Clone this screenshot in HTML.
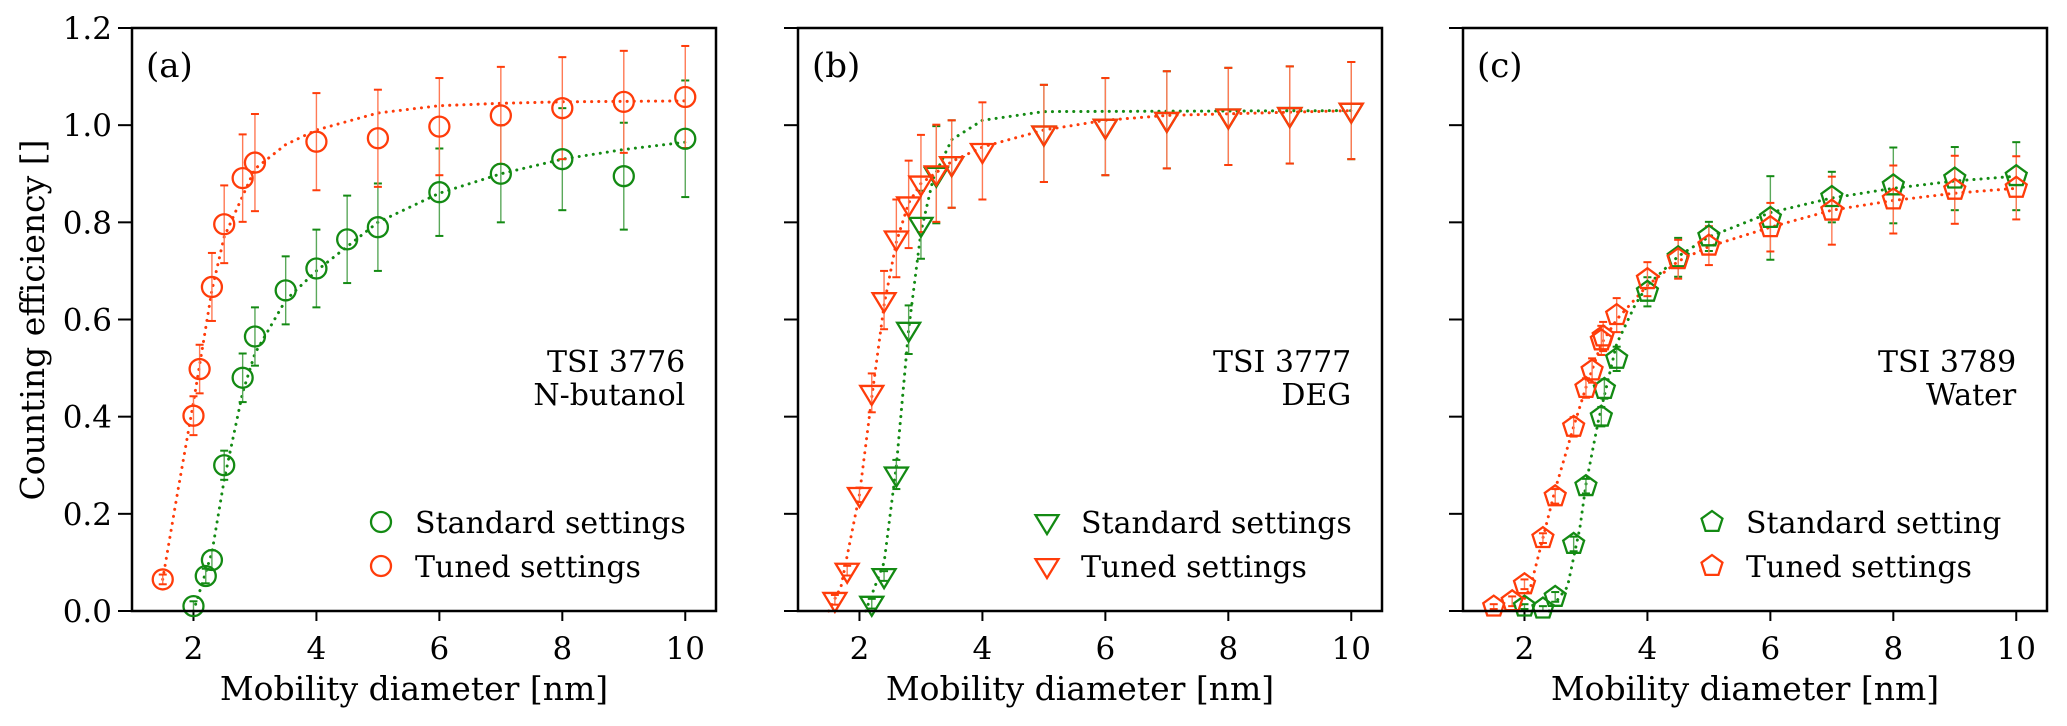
<!DOCTYPE html>
<html><head><meta charset="utf-8">
<style>
html,body{margin:0;padding:0;background:#fff;}
svg{display:block;font-family:"DejaVu Serif","Liberation Serif",serif;}
</style></head>
<body>
<svg id="chart" width="2067" height="726" viewBox="0 0 2067 726" xmlns="http://www.w3.org/2000/svg"></svg>
<script>
// ---- Panel (a) TSI 3776 N-butanol ----
const aStdX = [2, 2.2, 2.3, 2.5, 2.8, 3, 3.5, 4, 4.5, 5, 6, 7, 8, 9, 10];
const aStdY = [0.01, 0.072, 0.105, 0.30, 0.48, 0.565, 0.66, 0.705, 0.765, 0.79, 0.862, 0.90, 0.93, 0.895, 0.972];
const aStdE = [0.01, 0.015, 0.02, 0.03, 0.05, 0.06, 0.07, 0.08, 0.09, 0.09, 0.09, 0.10, 0.105, 0.11, 0.12];
const aTunX = [1.5, 2, 2.1, 2.3, 2.5, 2.8, 3, 4, 5, 6, 7, 8, 9, 10];
const aTunY = [0.065, 0.402, 0.498, 0.667, 0.796, 0.891, 0.923, 0.966, 0.973, 0.997, 1.02, 1.035, 1.048, 1.058];
const aTunE = [0.01, 0.04, 0.05, 0.07, 0.08, 0.09, 0.10, 0.10, 0.10, 0.10, 0.10, 0.105, 0.105, 0.105];
const aStdFitX = [2, 2.3, 2.5, 2.8, 3, 3.5, 4, 5, 6, 7, 8, 9, 10];
const aStdFitY = [0.0, 0.12, 0.27, 0.45, 0.53, 0.64, 0.70, 0.80, 0.86, 0.90, 0.93, 0.95, 0.965];
const aTunFitX = [1.5, 1.75, 2, 2.3, 2.5, 3, 3.5, 4, 5, 6, 7, 8, 10];
const aTunFitY = [0.065, 0.25, 0.43, 0.66, 0.77, 0.91, 0.96, 0.99, 1.025, 1.04, 1.045, 1.048, 1.05];
// ---- Panel (b) TSI 3777 DEG ----
const bStdX = [2.2, 2.4, 2.6, 2.8, 3, 3.25, 3.5, 5, 6, 7, 8, 9, 10];
const bStdY = [0.015, 0.072, 0.281, 0.579, 0.795, 0.898, 0.92, 0.983, 0.997, 1.011, 1.018, 1.021, 1.03];
const bStdE = [0.01, 0.01, 0.03, 0.05, 0.07, 0.10, 0.09, 0.10, 0.10, 0.10, 0.10, 0.10, 0.10];
const bTunX = [1.6, 1.8, 2, 2.2, 2.4, 2.6, 2.8, 3, 3.25, 3.5, 4, 5, 6, 7, 8, 9, 10];
const bTunY = [0.023, 0.083, 0.239, 0.449, 0.640, 0.767, 0.837, 0.880, 0.901, 0.92, 0.947, 0.983, 0.997, 1.011, 1.018, 1.021, 1.03];
const bTunE = [0.01, 0.01, 0.015, 0.04, 0.06, 0.08, 0.09, 0.10, 0.10, 0.09, 0.10, 0.10, 0.10, 0.10, 0.10, 0.10, 0.10];
const bStdFitX = [2.1, 2.4, 2.6, 2.8, 3, 3.2, 3.5, 4, 5, 10];
const bStdFitY = [0.0, 0.1, 0.3, 0.58, 0.78, 0.89, 0.97, 1.01, 1.028, 1.03];
const bTunFitX = [1.5, 1.7, 2, 2.2, 2.4, 2.6, 2.8, 3, 3.5, 4, 5, 6, 7, 10];
const bTunFitY = [0.0, 0.05, 0.24, 0.44, 0.63, 0.76, 0.84, 0.88, 0.925, 0.955, 0.99, 1.01, 1.02, 1.03];
// ---- Panel (c) TSI 3789 Water ----
const cStdX = [2, 2.3, 2.5, 2.8, 3, 3.25, 3.3, 3.5, 4, 4.5, 5, 6, 7, 8, 9, 10];
const cStdY = [0.009, 0.005, 0.029, 0.138, 0.257, 0.40, 0.457, 0.519, 0.657, 0.728, 0.771, 0.809, 0.852, 0.876, 0.89, 0.895];
const cStdE = [0.005, 0.005, 0.01, 0.015, 0.015, 0.02, 0.02, 0.025, 0.03, 0.04, 0.03, 0.086, 0.052, 0.078, 0.065, 0.07];
const cTunX = [1.5, 1.8, 2, 2.3, 2.5, 2.8, 3, 3.1, 3.25, 3.28, 3.5, 4, 4.5, 5, 6, 7, 8, 9, 10];
const cTunY = [0.009, 0.02, 0.055, 0.15, 0.236, 0.379, 0.459, 0.495, 0.557, 0.565, 0.609, 0.683, 0.724, 0.752, 0.79, 0.824, 0.847, 0.867, 0.871];
const cTunE = [0.005, 0.01, 0.01, 0.01, 0.015, 0.02, 0.02, 0.025, 0.03, 0.03, 0.035, 0.035, 0.04, 0.04, 0.05, 0.07, 0.07, 0.07, 0.065];
const cStdFitX = [2.4, 2.7, 2.9, 3.0, 3.2, 3.5, 3.8, 4, 4.5, 5, 6, 7, 8, 9, 10];
const cStdFitY = [0.0, 0.05, 0.17, 0.26, 0.39, 0.55, 0.63, 0.67, 0.73, 0.77, 0.82, 0.85, 0.87, 0.885, 0.895];
const cTunFitX = [1.9, 2.1, 2.3, 2.5, 2.8, 3, 3.25, 3.5, 4, 4.5, 5, 6, 7, 8, 9, 10];
const cTunFitY = [0.0, 0.05, 0.15, 0.25, 0.38, 0.46, 0.55, 0.6, 0.67, 0.72, 0.75, 0.79, 0.825, 0.845, 0.86, 0.87];

const xTicks = [2, 4, 6, 8, 10];
const yTicks = [0.0, 0.2, 0.4, 0.6, 0.8, 1.0, 1.2];
const yTickLabels = ["0.0", "0.2", "0.4", "0.6", "0.8", "1.0", "1.2"];

const NS = "http://www.w3.org/2000/svg";
const svg = document.getElementById("chart");
const GREEN = "#138a13", RED = "#ff3c0a", GREEN_E = "#5aa85a", RED_E = "#ff7a55";
const TOP = 28, BOT = 611, W = 584;
const XMIN = 1, XMAX = 10.5, YMIN = 0, YMAX = 1.2;
const FT = 31, FL = 30, FA = 33, FP = 34;

function mk(tag, attrs, parent) {
  const e = document.createElementNS(NS, tag);
  for (const k in attrs) e.setAttribute(k, attrs[k]);
  (parent || svg).appendChild(e);
  return e;
}
function yScale(v) { return BOT - (v - YMIN) / (YMAX - YMIN) * (BOT - TOP); }

function marker(g, shape, cx, cy, color) {
  let el;
  if (shape === "circle") {
    el = mk("circle", {cx: cx, cy: cy, r: 10, fill: "none", stroke: color, "stroke-width": 2.3}, g);
  } else if (shape === "tri") {
    const r = 11.5;
    const pts = [[cx - r, cy - r * 0.6], [cx + r, cy - r * 0.6], [cx, cy + r * 1.05]];
    el = mk("polygon", {points: pts.map(p => p.join(",")).join(" "), fill: "none", stroke: color, "stroke-width": 2.3, "stroke-linejoin": "miter"}, g);
  } else {
    const r = 11, pts = [];
    for (let i = 0; i < 5; i++) {
      const a = -Math.PI / 2 + i * 2 * Math.PI / 5;
      pts.push([cx + r * Math.cos(a), cy + r * Math.sin(a)]);
    }
    el = mk("polygon", {points: pts.map(p => p.join(",")).join(" "), fill: "none", stroke: color, "stroke-width": 2.3}, g);
  }
  return el;
}

function panel(idx, left, label, line1, line2, shape, std, tun, legStd, legTun) {
  const xs = v => left + (v - XMIN) / (XMAX - XMIN) * W;
  const g = mk("g", {});
  
  

  xTicks.forEach(t => {
    const tk = mk("line", {x1: xs(t), x2: xs(t), y1: BOT, y2: BOT + 10, stroke: "#000", "stroke-width": 2}, g);
    
    
    const tl = mk("text", {x: xs(t), y: 659, "text-anchor": "middle", "font-size": FT, fill: "#000"}, g);
    tl.textContent = t;
    
    
  });
  yTicks.forEach((t, i) => {
    const tk = mk("line", {x1: left - 14, x2: left, y1: yScale(t), y2: yScale(t), stroke: "#000", "stroke-width": 2}, g);
    
    
    if (idx === 0) {
      const tl = mk("text", {x: left - 20, y: yScale(t) + 11, "text-anchor": "end", "font-size": FT, fill: "#000"}, g);
      tl.textContent = yTickLabels[i];
      
      
    }
  });

  [std, tun].forEach(s => {
    const d = s.fx.map((v, i) => (i ? "L" : "M") + xs(v).toFixed(1) + "," + yScale(s.fy[i]).toFixed(1)).join(" ");
    const fit = mk("path", {d: d, fill: "none", stroke: s.color, "stroke-width": 3, "stroke-dasharray": "0.1 7", "stroke-linecap": "round"}, g);
    
    
  });
  [std, tun].forEach(s => {
    s.x.forEach((v, i) => {
      const cx = xs(v), y1 = yScale(s.y[i] + s.e[i]), y2 = yScale(s.y[i] - s.e[i]);
      const eb = mk("g", {}, g);
      
      
      mk("line", {x1: cx, x2: cx, y1: y1, y2: y2, stroke: s.ecolor, "stroke-width": 1.4}, eb);
      mk("line", {x1: cx - 4, x2: cx + 4, y1: y1, y2: y1, stroke: s.color, "stroke-width": 2}, eb);
      mk("line", {x1: cx - 4, x2: cx + 4, y1: y2, y2: y2, stroke: s.color, "stroke-width": 2}, eb);
    });
  });
  [std, tun].forEach(s => {
    s.x.forEach((v, i) => {
      const m = marker(g, shape, xs(v), yScale(s.y[i]), s.color);
      
      
    });
  });

  const fr = mk("rect", {x: left, y: TOP, width: W, height: BOT - TOP, fill: "none", stroke: "#000", "stroke-width": 2.5}, g);
  
  

  const pl = mk("text", {x: left + 14, y: 77, "font-size": FP, fill: "#000"}, g);
  pl.textContent = label;
  
  
  const t1 = mk("text", {x: xs(10), y: 372, "text-anchor": "end", "font-size": FL, fill: "#000"}, g);
  t1.textContent = line1;
  
  
  const t2 = mk("text", {x: xs(10), y: 405, "text-anchor": "end", "font-size": FL, fill: "#000"}, g);
  t2.textContent = line2;
  
  

  const lg = mk("g", {}, g);
  
  
  [[std, legStd, 525], [tun, legTun, 569]].forEach(([s, txt, ly]) => {
    const mx = left + 249;
    const m = marker(lg, shape, mx, ly - 3, s.color);
    
    
    const lt = mk("text", {x: mx + 34, y: ly + 8, "font-size": FL, fill: "#000"}, lg);
    lt.textContent = txt;
    
    
  });

  const xl = mk("text", {x: left + W / 2 - 10, y: 700, "text-anchor": "middle", "font-size": FA, fill: "#000"}, g);
  xl.textContent = "Mobility diameter [nm]";
  
  
}

const S = (x, y, e, fx, fy) => ({x: x, y: y, e: e, fx: fx, fy: fy, color: GREEN, ecolor: GREEN_E, name: "standard"});
const T = (x, y, e, fx, fy) => ({x: x, y: y, e: e, fx: fx, fy: fy, color: RED, ecolor: RED_E, name: "tuned"});

panel(0, 132, "(a)", "TSI 3776", "N-butanol", "circle",
  S(aStdX, aStdY, aStdE, aStdFitX, aStdFitY), T(aTunX, aTunY, aTunE, aTunFitX, aTunFitY),
  "Standard settings", "Tuned settings");
panel(1, 798, "(b)", "TSI 3777", "DEG", "tri",
  S(bStdX, bStdY, bStdE, bStdFitX, bStdFitY), T(bTunX, bTunY, bTunE, bTunFitX, bTunFitY),
  "Standard settings", "Tuned settings");
panel(2, 1463, "(c)", "TSI 3789", "Water", "pent",
  S(cStdX, cStdY, cStdE, cStdFitX, cStdFitY), T(cTunX, cTunY, cTunE, cTunFitX, cTunFitY),
  "Standard setting", "Tuned settings");

const yl = mk("text", {x: 0, y: 0, "text-anchor": "middle", "font-size": FA, fill: "#000", transform: "translate(44,320) rotate(-90)"});
yl.textContent = "Counting efficiency []";


</script>
</body></html>
